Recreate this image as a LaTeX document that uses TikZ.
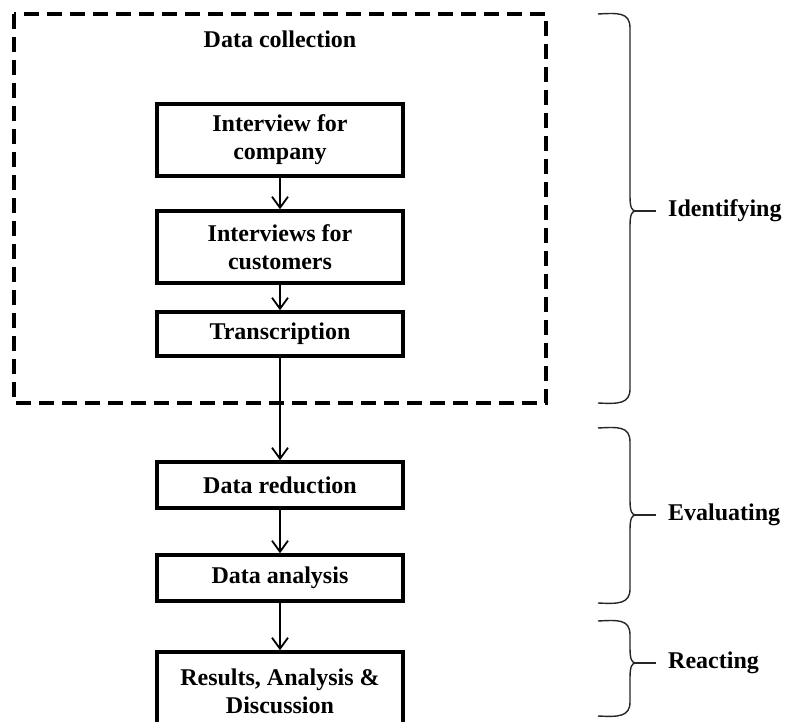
\documentclass[tikz,border=0pt]{standalone}
\usepackage{fontspec}
\setmainfont{Liberation Serif}
\usetikzlibrary{arrows.meta}
\begin{document}
\begin{tikzpicture}[x=1pt,y=-1pt,
  every node/.style={font=\fontsize{24}{28}\selectfont\bfseries},
  stepbox/.style={draw,line width=3.5pt,minimum width=246pt,align=center,inner sep=0pt},
  flow/.style={line width=1.3pt,-{Straight Barb[length=11pt,width=16pt,line width=1.8pt]}},
  brace/.style={line width=1.4pt,draw=black!85,line join=round},
  phase/.style={anchor=west,inner sep=0pt}]
\clip (0,0) rectangle (788,722);
\fill[white] (0,0) rectangle (788,722);

% data collection frame
\draw[line width=4pt,dash pattern=on 15pt off 8pt] (14,14) rectangle (546,403);
\node (dc) at (280,39) {Data collection};

% process steps
\node[stepbox,minimum height=72pt] (s1) at (280,140) {Interview for\\company};
\node[stepbox,minimum height=72pt] (s2) at (280,247) {Interviews for\\customers};
\node[stepbox,minimum height=44pt] (s3) at (280,334) {Transcription};
\node[stepbox,minimum height=46pt] (s4) at (280,485) {Data reduction};
\node[stepbox,minimum height=46pt] (s5) at (280,578) {Data analysis};
\node[stepbox,minimum height=78pt] (s6) at (280,691) {Results, Analysis \&\\Discussion};

\draw[flow] (s1) -- (s2);
\draw[flow] (s2) -- (s3);
\draw[flow] (s3) -- (s4);
\draw[flow] (s4) -- (s5);
\draw[flow] (s5) -- (s6);

% phase braces
\draw[brace] (598,14) .. controls (618,13) and (630,12) .. (630,28) -- (630,196)
  .. controls (630,208) and (632,211) .. (636,211)
  .. controls (632,211) and (630,214) .. (630,226) -- (630,389)
  .. controls (630,404) and (618,404) .. (598,403);
\draw[brace] (636,211) -- (656,211);
\node[phase] (p1) at (668,211) {Identifying};

\draw[brace] (598,428) .. controls (618,427) and (630,426) .. (630,442) -- (630,500)
  .. controls (630,512) and (632,515) .. (636,515)
  .. controls (632,515) and (630,518) .. (630,530) -- (630,589)
  .. controls (630,604) and (618,604) .. (598,603);
\draw[brace] (636,515) -- (656,515);
\node[phase] (p2) at (668,515) {Evaluating};

\draw[brace] (598,621) .. controls (618,620) and (630,619) .. (630,635) -- (630,648)
  .. controls (630,660) and (632,663) .. (636,663)
  .. controls (632,663) and (630,666) .. (630,678) -- (630,702)
  .. controls (630,717) and (618,717) .. (598,716);
\draw[brace] (636,663) -- (656,663);
\node[phase] (p3) at (668,663) {Reacting};
\end{tikzpicture}
\end{document}
